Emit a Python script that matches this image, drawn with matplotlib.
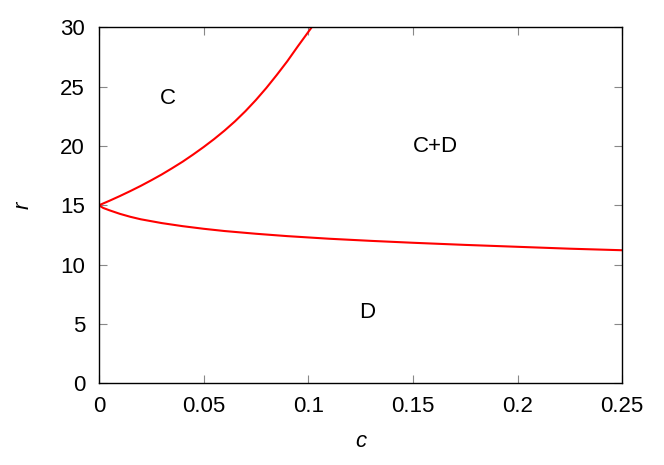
import matplotlib
matplotlib.use('Agg')
import matplotlib.pyplot as plt

# upper boundary (C / C+D)
c_upper = [0.0, 0.005, 0.010, 0.015, 0.020, 0.025, 0.030, 0.035, 0.040, 0.045,
           0.050, 0.055, 0.060, 0.065, 0.070, 0.075, 0.080, 0.085, 0.090, 0.095, 0.1016]
r_upper = [15.0, 15.38, 15.78, 16.2, 16.64, 17.11, 17.6, 18.13, 18.68, 19.28,
           19.91, 20.58, 21.3, 22.08, 22.94, 23.88, 24.9, 26.0, 27.15, 28.4, 30.0]

# lower boundary (C+D / D)
c_lower = [0.0, 0.002, 0.005, 0.010, 0.015, 0.020, 0.030, 0.040, 0.050, 0.060,
           0.075, 0.090, 0.110, 0.130, 0.150, 0.175, 0.200, 0.225, 0.250]
r_lower = [15.0, 14.78, 14.58, 14.28, 14.03, 13.82, 13.5, 13.24, 13.02, 12.83,
           12.6, 12.4, 12.18, 12.0, 11.84, 11.66, 11.5, 11.34, 11.21]

region_labels = ['C', 'C+D', 'D']
region_pos = [(0.033, 24.0), (0.161, 20.0), (0.128, 6.0)]

x_ticks = [0, 0.05, 0.1, 0.15, 0.2, 0.25]
x_ticklabels = ['0', '0.05', '0.1', '0.15', '0.2', '0.25']
y_ticks = [0, 5, 10, 15, 20, 25, 30]

plt.rcParams['font.family'] = ['Liberation Sans', 'DejaVu Sans']

fig = plt.figure(figsize=(6.64, 4.65), dpi=100)
ax = fig.add_axes([0.149, 0.176, 0.788, 0.765])

ax.plot(c_upper, r_upper, color='red', lw=1.5)
ax.plot(c_lower, r_lower, color='red', lw=1.5)

for lab, (x, y) in zip(region_labels, region_pos):
    ax.text(x, y, lab, fontsize=16, ha='center', va='center')

ax.set_xlim(0, 0.25)
ax.set_ylim(0, 30)
ax.set_xticks(x_ticks)
ax.set_xticklabels(x_ticklabels)
ax.set_yticks(y_ticks)
ax.tick_params(direction='in', length=6, width=0.8, color='#888888',
               labelsize=16, top=True, right=True)
ax.tick_params(axis='x', pad=9)
ax.tick_params(axis='y', pad=10)
for s in ax.spines.values():
    s.set_linewidth(1.0)

ax.set_xlabel('c', fontsize=16, style='italic', labelpad=10)
ax.set_ylabel('r', fontsize=16, style='italic', labelpad=19)

fig.savefig('out.png', dpi=100)
